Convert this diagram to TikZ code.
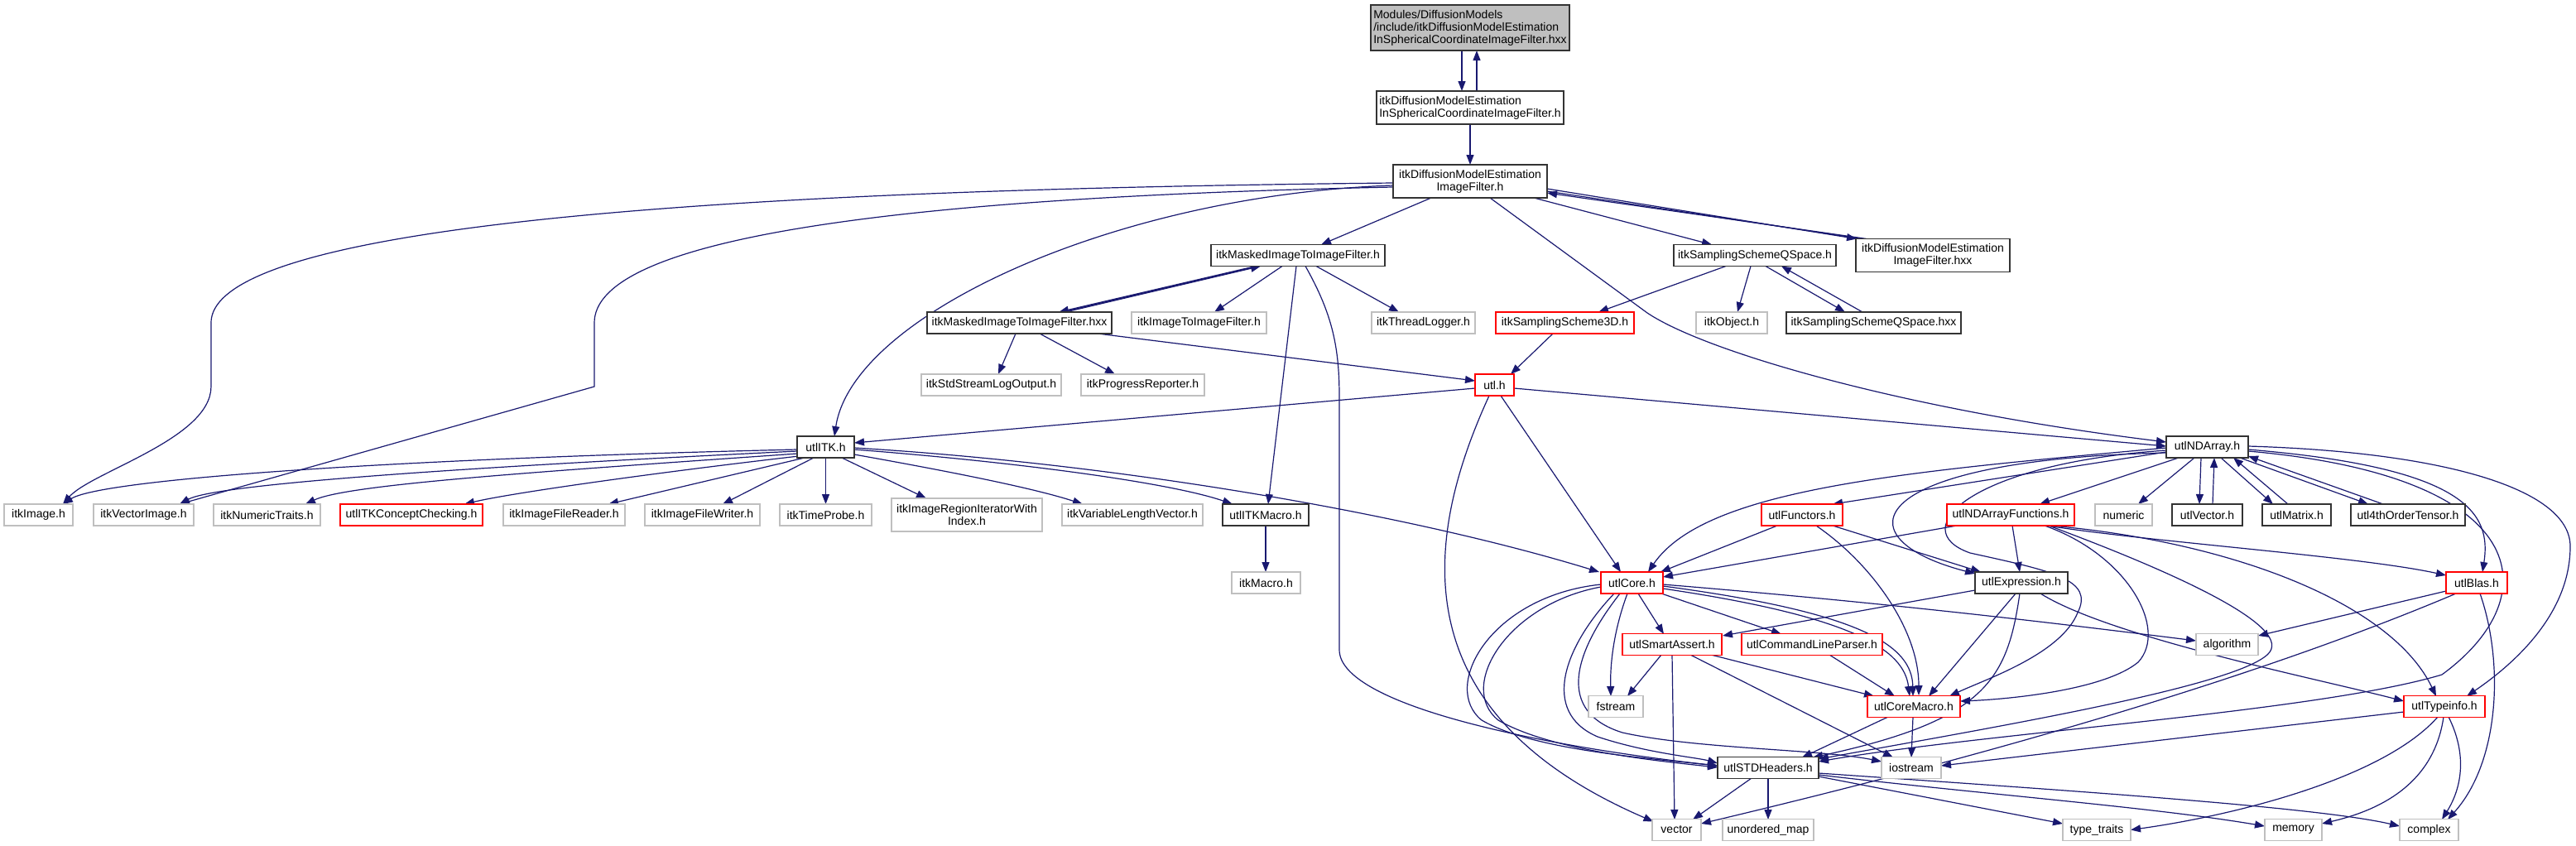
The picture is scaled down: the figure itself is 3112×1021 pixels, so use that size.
\documentclass[tikz,border=0pt]{standalone}
\usepackage{fontspec}
\setmainfont{Liberation Sans}
\usetikzlibrary{arrows.meta,calc,backgrounds}
\definecolor{edgec}{HTML}{191970}
\definecolor{grayb}{HTML}{BFBFBF}
\begin{document}
\begin{tikzpicture}[x=1pt,y=-1pt,
 box/.style={draw=black!80, line width=1.2pt, fill=white, inner sep=0pt, minimum height=26pt, font=\fontsize{14}{15}\selectfont, align=center},
 ext/.style={box, draw=grayb},
 trunc/.style={box, draw=red},
 e/.style={draw=edgec, line width=1.2pt, -{Triangle[length=12pt,width=9pt]}},
 pl/.style={draw=edgec, line width=1.2pt}]
\useasboundingbox (0,0) rectangle (3112,1021);
% ---------- nodes ----------
\node[box, fill=grayb, minimum width=240pt, minimum height=55pt, align=left] (top) at (1776,33.5) {Modules/DiffusionModels\\/include/itkDiffusionModelEstimation\\InSphericalCoordinateImageFilter.hxx};
\node[box, minimum width=226pt, minimum height=40pt, align=left] (insph) at (1776,130) {itkDiffusionModelEstimation\\InSphericalCoordinateImageFilter.h};
\node[box, minimum width=186pt, minimum height=40pt] (dmeif) at (1776,219) {itkDiffusionModelEstimation\\ImageFilter.h};
\node[box, minimum width=210pt] (mask) at (1568,308.5) {itkMaskedImageToImageFilter.h};
\node[box, minimum width=196pt] (qsp) at (2120,308.5) {itkSamplingSchemeQSpace.h};
\node[box, minimum width=186pt, minimum height=40pt] (dmhxx) at (2335,308.5) {itkDiffusionModelEstimation\\ImageFilter.hxx};
\node[box, minimum width=223pt] (maskx) at (1231.5,390) {itkMaskedImageToImageFilter.hxx};
\node[ext, minimum width=163pt] (i2i) at (1448.5,390) {itkImageToImageFilter.h};
\node[ext, minimum width=125pt] (thr) at (1719.5,390) {itkThreadLogger.h};
\node[trunc, minimum width=167pt] (ss3d) at (1890.5,390) {itkSamplingScheme3D.h};
\node[ext, minimum width=86pt] (obj) at (2092,390) {itkObject.h};
\node[box, minimum width=211pt] (qspx) at (2263.5,390) {itkSamplingSchemeQSpace.hxx};
\node[ext, minimum width=169pt] (stdlog) at (1197.5,465) {itkStdStreamLogOutput.h};
\node[ext, minimum width=149pt] (prog) at (1380.5,465) {itkProgressReporter.h};
\node[trunc, minimum width=47pt] (utl) at (1805.5,465) {utl.h};
\node[box, minimum width=69pt] (uitk) at (997.5,540) {utlITK.h};
\node[box, minimum width=99pt] (nda) at (2666.5,540) {utlNDArray.h};
\node[ext, minimum width=83pt] (img) at (46.5,622) {itkImage.h};
\node[ext, minimum width=121pt] (vimg) at (173.5,622) {itkVectorImage.h};
\node[ext, minimum width=129pt] (numt) at (322.5,622) {itkNumericTraits.h};
\node[trunc, minimum width=172pt] (conc) at (497,622) {utlITKConceptChecking.h};
\node[ext, minimum width=147pt] (rdr) at (681.5,622) {itkImageFileReader.h};
\node[ext, minimum width=139pt] (wrt) at (848.5,622) {itkImageFileWriter.h};
\node[ext, minimum width=111pt] (tprobe) at (997.5,622) {itkTimeProbe.h};
\node[ext, minimum width=182pt, minimum height=40pt] (regit) at (1168,622) {itkImageRegionIteratorWith\\Index.h};
\node[ext, minimum width=170pt] (vlv) at (1368,622) {itkVariableLengthVector.h};
\node[box, minimum width=104pt] (uitkm) at (1529,622) {utlITKMacro.h};
\node[trunc, minimum width=98pt] (fun) at (2177,622) {utlFunctors.h};
\node[trunc, minimum width=154pt] (ndaf) at (2429,622) {utlNDArrayFunctions.h};
\node[ext, minimum width=69pt] (num) at (2565.5,622) {numeric};
\node[box, minimum width=85pt] (vec) at (2666.5,622) {utlVector.h};
\node[box, minimum width=83pt] (mat) at (2774.5,622) {utlMatrix.h};
\node[box, minimum width=138pt] (t4) at (2909,622) {utl4thOrderTensor.h};
\node[ext, minimum width=83pt] (imac) at (1529.5,704) {itkMacro.h};
\node[trunc, minimum width=75pt] (core) at (1971.5,704) {utlCore.h};
\node[box, minimum width=112pt] (expr) at (2442,704) {utlExpression.h};
\node[trunc, minimum width=74pt] (blas) at (2992,704) {utlBlas.h};
\node[trunc, minimum width=120pt] (sa) at (2020,778.5) {utlSmartAssert.h};
\node[trunc, minimum width=170pt] (clp) at (2189,778.5) {utlCommandLineParser.h};
\node[ext, minimum width=75pt] (alg) at (2690.5,778.5) {algorithm};
\node[ext, minimum width=66pt] (fstr) at (1952,853.5) {fstream};
\node[trunc, minimum width=112pt] (cmac) at (2312,853.5) {utlCoreMacro.h};
\node[trunc, minimum width=98pt] (tinfo) at (2953,853.5) {utlTypeinfo.h};
\node[box, minimum width=122pt] (stdh) at (2136,927.5) {utlSTDHeaders.h};
\node[ext, minimum width=72pt] (ios) at (2309,927.5) {iostream};
\node[ext, minimum width=59pt] (vctr) at (2025.5,1002.5) {vector};
\node[ext, minimum width=110pt] (umap) at (2136,1002.5) {unordered\_map};
\node[ext, minimum width=82pt] (ttr) at (2533,1002.5) {type\_traits};
\node[ext, minimum width=69pt] (mem) at (2770.5,1002.5) {memory};
\node[ext, minimum width=71pt] (cplx) at (2934.5,1002.5) {complex};
% ---------- edges ----------
\begin{scope}[on background layer]
\draw[e] ($(top)+(-10,27.5)$) -- ($(insph)+(-10,-20)$);
\draw[e] ($(insph)+(8,-20)$) -- ($(top)+(8,27.5)$);
\draw[e] ($(insph)+(0,20)$) -- ($(dmeif)+(0,-20)$);
\draw[e] ($(dmeif)+(-47,20)$) -- ($(mask)+(28,-13)$);
\draw[e] ($(dmeif)+(77,20)$) -- ($(qsp)+(-52,-13)$);
\draw[e] ($(dmeif)+(93,9)$) -- ($(dmhxx)+(-92,-20)$);
\draw[pl] ($(dmhxx)+(-86,-20)$) -- ($(dmeif)+(93,12)$);
\draw[e] ($(dmhxx)+(-80,-20)$) -- ($(dmeif)+(93,14)$);
\draw[e] ($(dmeif)+(-93,2)$) .. controls (1000,228) and (255,260) .. (255,390) -- (255,467) .. controls (255,530) and (110,570) .. ($(img)+(29.5,-13)$);
\draw[e] ($(dmeif)+(-93,7)$) .. controls (1000,240) and (718,300) .. (718,390) -- (718,467) -- ($(vimg)+(43.5,-13)$);
\draw[e] ($(dmeif)+(-93,5)$) .. controls (1350,235) and (1030,380) .. ($(uitk)+(10.5,-13)$);
\draw[e] ($(dmeif)+(24,20)$) -- (1990,378) .. controls (2060,425) and (2300,495) .. ($(nda)+(-49.5,-6)$);
\draw[e] ($(utl)+(23.5,4)$) -- ($(nda)+(-49.5,-1)$);
% masked filter
\draw[e] ($(mask)+(-51,13)$) -- ($(maskx)+(47.5,-13)$);
\draw[pl] ($(maskx)+(51.5,-13)$) -- ($(mask)+(-48,13)$);
\draw[e] ($(maskx)+(55.5,-13)$) -- ($(mask)+(-45,13)$);
\draw[e] ($(mask)+(-19,13)$) -- ($(i2i)+(18.5,-13)$);
\draw[e] ($(mask)+(22,13)$) -- ($(thr)+(-29.5,-13)$);
\draw[e] ($(mask)+(-2,13)$) -- ($(uitkm)+(3,-13)$);
\draw[e] ($(mask)+(9,13)$) .. controls (1610,380) and (1618,420) .. (1618,480) -- (1618,785) .. controls (1618,850) and (1850,900) .. ($(stdh)+(-61,-2.5)$);
\draw[e] ($(maskx)+(-4.5,13)$) -- ($(stdlog)+(8.5,-13)$);
\draw[e] ($(maskx)+(24.5,13)$) -- ($(prog)+(-33.5,-13)$);
\draw[e] ($(maskx)+(94.5,13)$) -- ($(utl)+(-23.5,-5)$);
% sampling scheme
\draw[e] ($(qsp)+(-35,13)$) -- ($(ss3d)+(40.5,-13)$);
\draw[e] ($(qsp)+(-5,13)$) -- ($(obj)+(7,-13)$);
\draw[e] ($(qsp)+(13,13)$) -- ($(qspx)+(-34.5,-13)$);
\draw[e] ($(qspx)+(-13.5,-13)$) -- ($(qsp)+(32,13)$);
\draw[e] ($(ss3d)+(-14.5,13)$) -- ($(utl)+(19.5,-13)$);
% utl.h
\draw[e] ($(utl)+(-23.5,4)$) -- ($(uitk)+(34.5,-5)$);
\draw[e] ($(utl)+(7.5,13)$) -- ($(core)+(-13.5,-13)$);
\draw[e] ($(utl)+(-6.5,13)$) .. controls (1720,650) and (1690,860) .. ($(vctr)+(-28,-10)$);
% utlITK.h
\draw[e] ($(uitk)+(-34.5,3)$) .. controls (450,555) and (120,580) .. ($(img)+(29.5,-13)$);
\draw[e] ($(uitk)+(-34.5,5)$) .. controls (550,565) and (260,585) .. ($(vimg)+(43.5,-13)$);
\draw[e] ($(uitk)+(-34.5,8)$) .. controls (650,570) and (420,585) .. ($(numt)+(46.5,-13)$);
\draw[e] ($(uitk)+(-32.5,11)$) .. controls (800,570) and (620,595) .. ($(conc)+(64,-13)$);
\draw[e] ($(uitk)+(-25.5,13)$) -- ($(rdr)+(53.5,-13)$);
\draw[e] ($(uitk)+(-14.5,13)$) -- ($(wrt)+(24.5,-13)$);
\draw[e] ($(uitk)+(0,13)$) -- ($(tprobe)+(0,-13)$);
\draw[e] ($(uitk)+(19.5,13)$) -- ($(regit)+(-49,-20)$);
\draw[e] ($(uitk)+(34.5,9)$) .. controls (1150,570) and (1250,590) .. ($(vlv)+(-60,-13)$);
\draw[e] ($(uitk)+(34.5,3)$) .. controls (1250,560) and (1420,585) .. ($(uitkm)+(-40,-13)$);
\draw[e] ($(uitk)+(34.5,1)$) .. controls (1350,560) and (1700,620) .. ($(core)+(-39.5,-13)$);
\draw[e] ($(uitkm)+(0,13)$) -- ($(imac)+(-0.5,-13)$);
% utlNDArray.h
\draw[e] ($(nda)+(-49.5,1)$) .. controls (2300,570) and (2060,590) .. ($(core)+(19.5,-13)$);
\draw[e] ($(nda)+(-49.5,6)$) -- ($(fun)+(37,-13)$);
\draw[e] ($(nda)+(-34.5,13)$) -- ($(ndaf)+(35,-13)$);
\draw[e] ($(nda)+(-15.5,13)$) -- ($(num)+(17.5,-13)$);
\draw[e] ($(nda)+(-7.5,13)$) -- ($(vec)+(-9.5,-13)$);
\draw[e] ($(vec)+(6.5,-13)$) -- ($(nda)+(8.5,13)$);
\draw[e] ($(nda)+(16.5,13)$) -- ($(mat)+(-28.5,-13)$);
\draw[e] ($(mat)+(-10.5,-13)$) -- ($(nda)+(31.5,13)$);
\draw[e] ($(nda)+(39.5,13)$) -- ($(t4)+(-48,-13)$);
\draw[e] ($(t4)+(-30,-13)$) -- ($(nda)+(49.5,11)$);
\draw[e] ($(nda)+(49.5,3)$) .. controls (2980,565) and (3010,620) .. ($(blas)+(7,-13)$);
\draw[e] ($(nda)+(49.5,-1)$) .. controls (2950,546) and (3105,590) .. (3105,660) .. controls (3105,740) and (3040,800) .. ($(tinfo)+(27,-12.5)$);
\draw[e] ($(nda)+(-49.5,7)$) .. controls (2250,555) and (2220,650) .. ($(expr)+(-56,-11)$);
\draw[e] ($(nda)+(-49.5,4)$) .. controls (2380,560) and (2300,640) .. (2380,668) .. controls (2480,690) and (2530,700) .. (2510,740) .. controls (2490,790) and (2400,820) .. ($(cmac)+(43,-12.5)$);
\draw[e] ($(nda)+(49.5,5)$) .. controls (3060,575) and (3080,720) .. (2950,815) .. controls (2800,860) and (2400,885) .. ($(stdh)+(61,-7.5)$);
% utlNDArrayFunctions.h
\draw[e] ($(ndaf)+(-65,13)$) -- ($(core)+(37.5,-7)$);
\draw[e] ($(ndaf)+(2,13)$) -- ($(expr)+(-2,-13)$);
\draw[e] ($(ndaf)+(44,13)$) .. controls (2600,655) and (2850,672) .. ($(blas)+(-37,-9)$);
\draw[e] ($(ndaf)+(49,13)$) .. controls (2700,655) and (2890,730) .. ($(tinfo)+(-10,-12.5)$);
\draw[e] ($(ndaf)+(41,13)$) .. controls (2570,670) and (2620,760) .. (2583,800) .. controls (2540,835) and (2420,845) .. ($(cmac)+(56,-6.5)$);
\draw[e] ($(ndaf)+(46,13)$) .. controls (2650,700) and (2770,760) .. (2740,790) .. controls (2700,830) and (2400,880) .. ($(stdh)+(61,-10.5)$);
% utlFunctors.h
\draw[e] ($(fun)+(-30,13)$) -- ($(core)+(34.5,-13)$);
\draw[e] ($(fun)+(37,13)$) -- ($(expr)+(-49,-13)$);
\draw[e] ($(fun)+(17,13)$) .. controls (2260,680) and (2318,760) .. ($(cmac)+(6,-13.5)$);
% utlCore.h
\draw[e] ($(core)+(7.5,13)$) -- ($(sa)+(-10,-12.5)$);
\draw[e] ($(core)+(35.5,13)$) -- ($(clp)+(-37,-12.5)$);
\draw[e] ($(core)+(-5.5,13)$) .. controls (1950,760) and (1945,800) .. ($(fstr)+(-6,-12.5)$);
\draw[e] ($(core)+(37.5,4)$) .. controls (2250,740) and (2310,780) .. ($(cmac)+(-1,-12.5)$);
\draw[e] ($(core)+(37.5,7)$) .. controls (2240,745) and (2300,785) .. ($(cmac)+(-5,-12.5)$);
\draw[e] ($(core)+(37.5,2)$) .. controls (2300,730) and (2500,755) .. ($(alg)+(-37.5,-4.5)$);
\draw[e] ($(core)+(-37.5,2)$) .. controls (1800,720) and (1740,830) .. (1790,870) .. controls (1850,905) and (1980,915) .. ($(stdh)+(-61,-2.5)$);
\draw[e] ($(core)+(-37.5,5)$) .. controls (1820,730) and (1760,830) .. (1810,870) .. controls (1870,905) and (1990,918) .. ($(stdh)+(-61,-0.5)$);
\draw[e] ($(core)+(-21.5,13)$) .. controls (1890,780) and (1860,860) .. (1930,890) .. controls (1990,910) and (2050,915) .. ($(stdh)+(-61,-5.5)$);
\draw[e] ($(core)+(-14.5,13)$) .. controls (1900,790) and (1880,860) .. (1960,885) .. controls (2050,905) and (2200,905) .. ($(ios)+(-36,-7.5)$);
% utlSmartAssert.h / parser
\draw[e] ($(sa)+(-13,12.5)$) -- ($(fstr)+(14,-12.5)$);
\draw[e] ($(sa)+(0,12.5)$) -- ($(vctr)+(-2.5,-12.5)$);
\draw[e] ($(sa)+(47,12.5)$) -- ($(cmac)+(-48,-12.5)$);
\draw[e] ($(sa)+(22,12.5)$) -- ($(ios)+(-22,-12.5)$);
\draw[e] ($(clp)+(21,12.5)$) -- ($(cmac)+(-23,-12.5)$);
% utlExpression.h
\draw[e] ($(expr)+(-56,9)$) -- ($(sa)+(61,-10.5)$);
\draw[e] ($(expr)+(-7,13)$) -- ($(cmac)+(18,-12.5)$);
\draw[e] ($(expr)+(-2,13)$) .. controls (2425,820) and (2400,870) .. ($(stdh)+(54,-12.5)$);
\draw[e] ($(expr)+(23,13)$) .. controls (2550,770) and (2800,820) .. ($(tinfo)+(-49,-6.5)$);
% utlCoreMacro.h
\draw[e] ($(cmac)+(-31,12.5)$) -- ($(stdh)+(41,-12.5)$);
\draw[e] ($(cmac)+(-1,12.5)$) -- ($(ios)+(0,-12.5)$);
% utlSTDHeaders.h
\draw[e] ($(stdh)+(-20,12.5)$) -- ($(vctr)+(19.5,-12.5)$);
\draw[e] ($(stdh)+(0,12.5)$) -- ($(umap)+(0,-12.5)$);
\draw[e] ($(stdh)+(61,10.5)$) -- ($(ttr)+(-41,-7.5)$);
\draw[e] ($(stdh)+(61,8.5)$) .. controls (2400,960) and (2600,975) .. ($(mem)+(-34.5,-4.5)$);
\draw[e] ($(stdh)+(61,6.5)$) .. controls (2500,955) and (2800,975) .. ($(cplx)+(-35.5,-4.5)$);
% utlBlas.h
\draw[e] ($(blas)+(-37,10)$) -- ($(alg)+(37.5,-10.5)$);
\draw[e] ($(blas)+(-25,13)$) .. controls (2700,830) and (2350,925) .. ($(vctr)+(29.5,-7.5)$);
\draw[e] ($(blas)+(4,13)$) .. controls (3025,800) and (3020,920) .. ($(cplx)+(22.5,-12.5)$);
% utlTypeinfo.h
\draw[e] ($(tinfo)+(-49,6.5)$) -- ($(ios)+(36,-2.5)$);
\draw[e] ($(tinfo)+(-8,12.5)$) .. controls (2880,940) and (2700,985) .. ($(ttr)+(41,0)$);
\draw[e] ($(tinfo)+(-1,12.5)$) .. controls (2940,950) and (2870,980) .. ($(mem)+(34.5,-7.5)$);
\draw[e] ($(tinfo)+(5,12.5)$) .. controls (2980,910) and (2975,950) .. ($(cplx)+(15.5,-12.5)$);
\end{scope}
\end{tikzpicture}
\end{document}
